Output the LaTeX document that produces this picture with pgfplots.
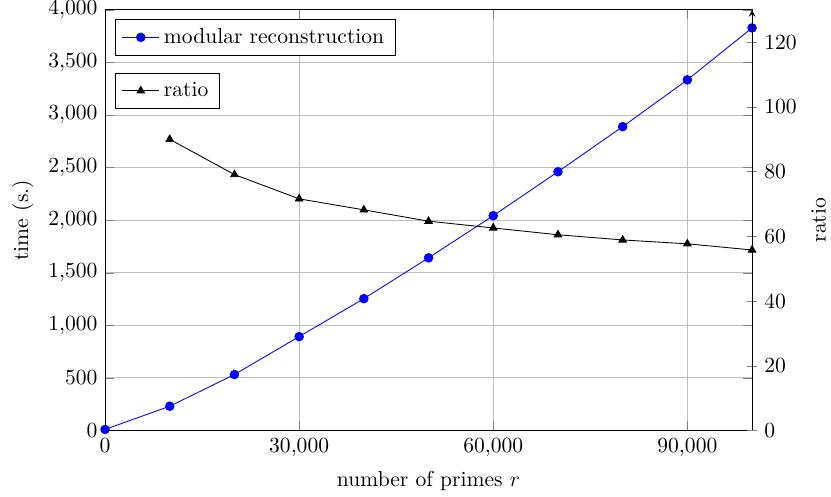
\documentclass[border=0pt]{standalone}
\usepackage{pgfplots}
\pgfplotsset{compat=1.18}
\begin{document}
\begin{tikzpicture}
\begin{axis}[
  scale only axis, width=300pt, height=195pt,
  xmin=0, xmax=100000, ymin=0, ymax=4000,
  xtick={0,30000,60000,90000},
  ytick distance=500,
  scaled x ticks=false, scaled y ticks=false,
  grid=major,
  xlabel={number of primes $r$}, ylabel={time (s.)},
  legend style={at={(0.0155,0.978)}, anchor=north west},
]
\addplot[blue, mark=*] coordinates {
(0,10) (10000,231) (20000,532) (30000,893) (40000,1254) (50000,1642)
(60000,2043) (70000,2461) (80000,2890) (90000,3335) (100000,3829)};
\addlegendentry{modular reconstruction}
\coordinate (sw) at (rel axis cs:0,0);
\coordinate (ne) at (rel axis cs:1,1);
\end{axis}
\begin{axis}[
  scale only axis, width=300pt, height=195pt,
  xmin=0, xmax=100000, ymin=0, ymax=130,
  axis y line=right, axis x line=none,
  ytick={0,20,40,60,80,100,120},
  ylabel={ratio},
  legend style={at={(0.0155,0.85)}, anchor=north west},
]
\addplot[black, mark=triangle*] coordinates {
(10000,90.0) (20000,79.1) (30000,71.6) (40000,68.2) (50000,64.7)
(60000,62.6) (70000,60.5) (80000,58.9) (90000,57.7) (100000,55.8)};
\addlegendentry{ratio}
\end{axis}
\pgfresetboundingbox
\path ([shift={(-48.7pt,-30.6pt)}]sw) rectangle ([shift={(36.6pt,4.6pt)}]ne);
\end{tikzpicture}
\end{document}
